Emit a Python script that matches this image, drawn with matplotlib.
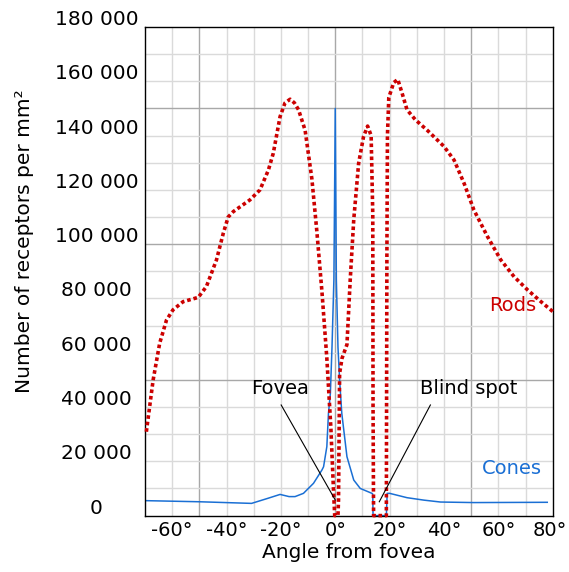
import matplotlib
matplotlib.use("Agg")
import matplotlib.pyplot as plt
import matplotlib.transforms as mtransforms
import numpy as np

plt.rcParams['font.family'] = ['DejaVu Sans']

# rod density (receptors per mm^2) against angle from fovea (deg)
rods_angle = [-69.5, -67, -64.6, -62.1, -59.7, -56, -50.4, -47.4, -43.7, -41.2,
              -39.4, -37.5, -31.4, -27.7, -24.6, -22.8, -20.3, -18.5, -16.6, -15,
              -13.5, -11.1, -8.6, -6.8, -4.9, -3.1, -1.6, -0.6, -0.2, 1.0,
              1.2, 1.6, 2.5, 4.3, 5.5, 6.8, 8.6, 10.4, 11.9, 13.2,
              13.8, 13.9, 14.1, 18.8, 19.0, 19.2, 19.7, 21.5, 23, 24.6,
              26.4, 29.5, 33.8, 40, 43.7, 47.4, 51, 56, 60.9, 65.8,
              70.8, 75.7, 80]
rods_value = [30900, 50000, 63500, 72000, 75800, 78800, 80400, 84400, 94200, 104000,
              110000, 112000, 116300, 120000, 127300, 133500, 147000, 152000, 153400, 152000,
              149500, 142000, 124000, 105000, 82500, 58000, 32000, 8200, 0, 0,
              5800, 52400, 58000, 63000, 86800, 109000, 129800, 139600, 143500, 140000,
              111000, 40800, 0, 0, 96000, 140000, 154000, 159500, 160700, 155600,
              149500, 145800, 142000, 136000, 131000, 122400, 112600, 102800, 94200, 88000,
              83100, 78800, 75200]

# cone density
cones_angle = [-69.5, -50, -30.8, -25, -20.3, -17, -14.8, -11.7, -8, -4.9,
               -4.3, -3.1, -2.5, -1.8, -1.2, -0.5, 0, 0.4, 1.0, 1.6,
               2.4, 4.3, 6.8, 9.2, 13.5, 13.8, 13.9, 18.8, 19.1, 20,
               26.4, 32.6, 38.7, 51, 78]
cones_value = [5500, 5100, 4500, 6300, 7800, 7000, 7000, 8200, 11900, 16800,
               18000, 25400, 37700, 45000, 62000, 87000, 150000, 87000, 62000, 50000,
               37700, 21700, 13100, 10000, 8200, 7900, 0, 0, 8200, 8200,
               6600, 5700, 5000, 4800, 4900]

x_ticks = [-60, -40, -20, 0, 20, 40, 60, 80]
x_tick_labels = ['-60°', '-40°', '-20°', '0°', '20°', '40°', '60°', '80°']
y_ticks = [0, 20000, 40000, 60000, 80000, 100000, 120000, 140000, 160000, 180000]

rod_color = '#cc0000'
cone_color = '#1a6fd4'

fig = plt.figure(figsize=(5.69, 5.72), dpi=100)
ax = fig.add_axes([145 / 569, 1 - 515.6 / 572, 407.7 / 569, 488.6 / 572])
ax.set_xlim(-70, 80)
ax.set_ylim(0, 180000)

# grid: light lines every 10 deg / 10 000, darker every 50 deg / 50 000
for gx in np.arange(-60, 80, 10):
    dark = gx % 50 == 0
    ax.axvline(gx, color='#a8a8a8' if dark else '#dadada', lw=1.0, zorder=0)
for gy in np.arange(10000, 180000, 10000):
    dark = gy % 50000 == 0
    ax.axhline(gy, color='#a8a8a8' if dark else '#dadada', lw=1.0, zorder=0)

ax.plot(cones_angle, cones_value, color=cone_color, lw=1.1, zorder=2, clip_on=False)
ax.plot(rods_angle, rods_value, color=rod_color, lw=2.6, linestyle=(0, (1, 0.8)),
        zorder=3, clip_on=False)

# pointer lines for fovea and blind spot
ax.plot([-19.9, 0], [40750, 5750], color='black', lw=0.8, zorder=4)
ax.plot([35, 16.2], [40750, 5100], color='black', lw=0.8, zorder=4)
ax.text(-20.3, 47000, 'Fovea', fontsize=14, ha='center', va='center', zorder=5)
ax.text(49, 47000, 'Blind spot', fontsize=14, ha='center', va='center', zorder=5)
ax.text(65.2, 77300, 'Rods', fontsize=14, color=rod_color, ha='center', va='center')
ax.text(65, 17400, 'Cones', fontsize=14, color=cone_color, ha='center', va='center')

for side in ax.spines.values():
    side.set_color('black')
    side.set_linewidth(1.0)

ax.set_xticks(x_ticks)
ax.set_xticklabels(x_tick_labels, fontsize=14)
ax.tick_params(axis='x', length=0, pad=4)
ax.set_yticks([])

# keep the last x label inside the figure
last = ax.xaxis.get_major_ticks()[-1].label1
last.set_transform(last.get_transform() +
                   mtransforms.ScaledTranslation(-3 / 100, 0, fig.dpi_scale_trans))

# y labels sit centred left of the axis, a little above their grid value
ylab_tr = mtransforms.offset_copy(ax.get_yaxis_transform(), fig=fig,
                                  x=-48.5, y=7.5, units='dots')
for v in y_ticks:
    ax.text(0, v, f"{v:,}".replace(",", " "), transform=ylab_tr, fontsize=14.5,
            ha='center', va='center', clip_on=False)

ax.set_xlabel('Angle from fovea', fontsize=14.5, labelpad=2)
fig.text(25 / 569, 1 - 241 / 572, 'Number of receptors per mm²', rotation=90,
         fontsize=14.5, ha='center', va='center')

fig.savefig('out.png', dpi=100)
